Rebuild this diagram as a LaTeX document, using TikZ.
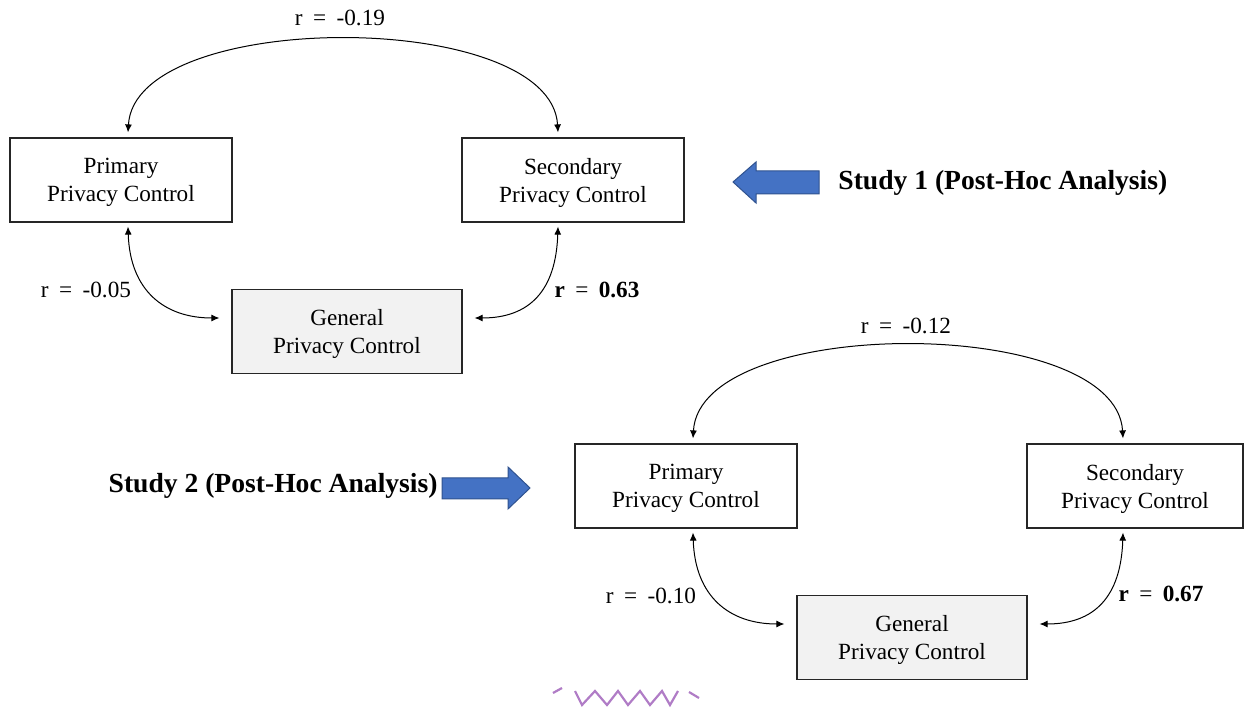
\documentclass[tikz,border=0pt]{standalone}
\usepackage{fontspec}
\setmainfont{Liberation Serif}
\usetikzlibrary{arrows.meta}
\definecolor{boxgray}{HTML}{F2F2F2}
\definecolor{arrblue}{HTML}{4472C4}
\definecolor{arrline}{HTML}{2F528F}
\definecolor{zig}{HTML}{B07CC6}
\tikzset{
  varbox/.style={draw=black!85, line width=0.6pt, minimum width=111pt, minimum height=42pt,
    align=center, font=\fontsize{11.6}{14}\selectfont, inner sep=0pt, text depth=-2pt},
  genbox/.style={varbox, fill=boxgray, minimum width=115pt},
  corr/.style={line width=0.5pt, {Latex[length=4pt,width=3.5pt]}-{Latex[length=4pt,width=3.5pt]}},
  rlab/.style={font=\fontsize{11.6}{14}\selectfont, inner sep=0pt},
  studylab/.style={font=\bfseries\fontsize{13.8}{16}\selectfont, inner sep=0pt},
  bigarrow/.style={fill=arrblue, draw=arrline, line width=0.5pt, line join=miter}
}
\newcommand{\rsp}{\hspace{0.45em}}
\begin{document}
\begin{tikzpicture}[x=0.5pt,y=-0.5pt]
\useasboundingbox (0,0) rectangle (1244,711);

% ---------- Study 1 ----------
\node[varbox] (p1) at (121,180) {Primary\\Privacy Control};
\node[varbox] (s1) at (573,180) {Secondary\\Privacy Control};
\node[genbox] (g1) at (347,331.5) {General\\Privacy Control};

\draw[corr] ([shift={(7,-5)}]p1.north) .. controls +(7,-124) and +(-7,-124) .. ([shift={(-15,-5)}]s1.north);
\draw[corr] ([shift={(7,4)}]p1.south) .. controls +(2,64) and +(-55,0) .. ([shift={(-12,-13.5)}]g1.west);
\draw[corr] ([shift={(-15,4)}]s1.south) .. controls +(-2,64) and +(55,0) .. ([shift={(12,-13.5)}]g1.east);

\node[rlab] (r1a) at (340,18) {r\rsp=\rsp-0.19};
\node[rlab] (r1b) at (86,290) {r\rsp=\rsp-0.05};
\node[rlab] (r1c) at (597,290) {\textbf{r}\rsp=\rsp\textbf{0.63}};

\draw[bigarrow] (733,182) -- (756,162) -- (756,171) -- (819,171) -- (819,194) -- (756,194) -- (756,203) -- cycle;
\node[studylab, anchor=west] (t1) at (838,183) {Study 1 (Post-Hoc Analysis)};

% ---------- Study 2 ----------
\node[varbox] (p2) at (686,486) {Primary\\Privacy Control};
\node[varbox, minimum width=108pt] (s2) at (1135,486) {Secondary\\Privacy Control};
\node[genbox] (g2) at (912,637.5) {General\\Privacy Control};

\draw[corr] ([shift={(7,-5)}]p2.north) .. controls +(7,-124) and +(-7,-124) .. ([shift={(-12,-5)}]s2.north);
\draw[corr] ([shift={(7,4)}]p2.south) .. controls +(2,64) and +(-55,0) .. ([shift={(-12,-13.5)}]g2.west);
\draw[corr] ([shift={(-12,4)}]s2.south) .. controls +(-2,64) and +(55,0) .. ([shift={(12,-13.5)}]g2.east);

\node[rlab] (r2a) at (906,326) {r\rsp=\rsp-0.12};
\node[rlab] (r2b) at (651,596) {r\rsp=\rsp-0.10};
\node[rlab] (r2c) at (1161,594) {\textbf{r}\rsp=\rsp\textbf{0.67}};

\draw[bigarrow] (442,478) -- (508,478) -- (508,467) -- (530,488) -- (508,509) -- (508,499) -- (442,499) -- cycle;
\node[studylab, anchor=east] (t2) at (438,486) {Study 2 (Post-Hoc Analysis)};

% ---------- purple zigzag fragment ----------
\draw[zig, line width=1.1pt, line join=miter] (553,693) -- (562,688);
\draw[zig, line width=1.1pt, line join=miter] (575,691) -- (582,705) -- (595,691) -- (607,705) -- (618,691) -- (628,705) -- (640,691) -- (650,705) -- (662,691) -- (670,705) -- (678,691);
\draw[zig, line width=1.1pt] (689,692) -- (699,698);
\end{tikzpicture}
\end{document}
